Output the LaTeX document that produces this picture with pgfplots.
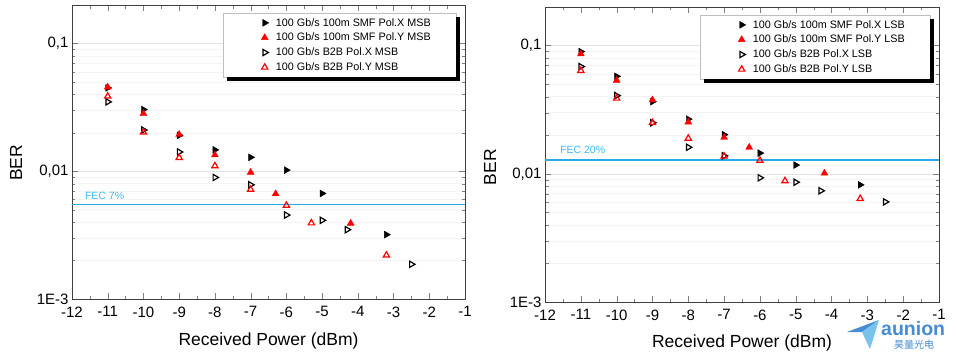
\documentclass[border=0pt]{standalone}
\usepackage{fontspec}
\setmainfont{Liberation Sans}
\newfontfamily\cjk{Noto Sans CJK SC}
\usepackage{pgfplots}
\pgfplotsset{compat=1.18}
\definecolor{fec}{RGB}{40,170,230}
\definecolor{fectext}{RGB}{60,185,240}
\definecolor{logoblue}{RGB}{70,140,210}
\definecolor{logolight}{RGB}{120,195,235}

\begin{document}
\begin{tikzpicture}
\useasboundingbox (0,0) rectangle (957pt,360pt);

% ---------------- left panel (MSB) ----------------
\begin{axis}[at={(72pt,61pt)}, anchor=south west, scale only axis, width=393pt, height=294pt,
  xmin=-12, xmax=-1, ymode=log, ymin=1e-3, ymax=0.2,
  xtick={-12,-11,-10,-9,-8,-7,-6,-5,-4,-3,-2,-1},
  xticklabels={-12,-11,-10,-9,-8,-7,-6,-5,-4,-3,-2,-1},
  minor x tick num=1,
  ytick={0.001,0.01,0.1}, yticklabels={1E-3,{0,01},{0,1}},
  ymajorgrids, yminorgrids,
  major grid style={gray!22, line width=0.6pt},
  minor grid style={gray!9, line width=0.5pt},
  axis line style={black!75, line width=1pt},
  major tick length=6pt, minor tick length=3.5pt,
  tick label style={font=\fontsize{15}{15}\selectfont},
  xticklabel style={yshift=-4pt},
  xlabel={Received Power (dBm)}, ylabel={BER},
  xlabel style={font=\fontsize{17.5}{18}\selectfont, at={(axis description cs:0.5,0)}, yshift=-42pt, anchor=center},
  ylabel style={font=\fontsize{17.5}{18}\selectfont, at={(axis description cs:-0.1425,0.4626)}, rotate=0, anchor=center},
  legend cell align=left,
  legend style={at={(axis description cs:1,1)}, xshift=-9pt, yshift=-8pt,
    anchor=north east, draw=gray!50, fill=white, name=legL, inner xsep=2pt, inner ysep=3pt,
    row sep=1.5pt, font=\fontsize{10.8}{12}\selectfont}]
\addplot[only marks, mark=triangle*, mark size=4pt, black, mark options={rotate=-90, fill=black},
  legend image code/.code={\path (-39pt,0pt) (9pt,0pt); \draw[black, mark=triangle*, mark size=4pt, mark options={rotate=-90, fill=black}] plot coordinates {(0pt,0pt)};}]
  coordinates {(-11,0.0449)(-10,0.0304)(-9,0.0191)(-8,0.0147)(-7,0.01285)(-6,0.0102)(-5,0.0067)(-3.2,0.00319)};
\addlegendentry{100 Gb/s 100m SMF Pol.X MSB\hspace*{21pt}}
\addplot[only marks, mark=triangle*, mark size=4pt, red, mark options={fill=red},
  legend image code/.code={\path (-39pt,0pt) (9pt,0pt); \draw[red, mark=triangle*, mark size=4pt, mark options={fill=red}] plot coordinates {(0pt,0pt)};}]
  coordinates {(-11,0.0455)(-10,0.0283)(-9,0.0194)(-8,0.0134)(-7,0.0098)(-6.3,0.00666)(-4.2,0.00391)};
\addlegendentry{100 Gb/s 100m SMF Pol.Y MSB\hspace*{21pt}}
\addplot[only marks, mark=triangle, mark size=3.6pt, black, mark options={rotate=-90, line width=1.2pt},
  legend image code/.code={\path (-39pt,0pt) (9pt,0pt); \draw[black, mark=triangle, mark size=3.6pt, mark options={rotate=-90, line width=1.2pt}] plot coordinates {(0pt,0pt)};}]
  coordinates {(-11,0.0349)(-10,0.0210)(-9,0.01415)(-8,0.00894)(-7,0.00783)(-6,0.00454)(-5,0.00413)(-4.3,0.00349)(-2.5,0.00187)};
\addlegendentry{100 Gb/s B2B Pol.X MSB}
\addplot[only marks, mark=triangle, mark size=3.6pt, red, mark options={line width=1.2pt},
  legend image code/.code={\path (-39pt,0pt) (9pt,0pt); \draw[red, mark=triangle, mark size=3.6pt, mark options={line width=1.2pt}] plot coordinates {(0pt,0pt)};}]
  coordinates {(-11,0.0386)(-10,0.0202)(-9,0.01277)(-8,0.0110)(-7,0.00720)(-6,0.0054)(-5.3,0.00393)(-3.2,0.0022)};
\addlegendentry{100 Gb/s B2B Pol.Y MSB}
\addplot[fec, line width=1.2pt, forget plot] coordinates {(-12,0.00547)(-1,0.00547)};
\node[anchor=south west, inner sep=0pt, text=fectext, font=\fontsize{10.5}{12}\selectfont, yshift=4.5pt] at (axis cs:-11.64,0.00547) {FEC 7\%};
\end{axis}
\fill[black] ([xshift=4pt]legL.south west) rectangle ([xshift=4pt,yshift=-4pt]legL.south east);
\fill[black] ([yshift=-4pt]legL.north east) rectangle ([xshift=4pt]legL.south east);

% ---------------- right panel (LSB) ----------------
\begin{axis}[at={(545pt,58pt)}, anchor=south west, scale only axis, width=394pt, height=295pt,
  xmin=-12, xmax=-1, ymode=log, ymin=1e-3, ymax=0.2,
  xtick={-12,-11,-10,-9,-8,-7,-6,-5,-4,-3,-2,-1},
  xticklabels={-12,-11,-10,-9,-8,-7,-6,-5,-4,-3,-2,-1},
  minor x tick num=1,
  ytick={0.001,0.01,0.1}, yticklabels={1E-3,{0,01},{0,1}},
  ymajorgrids, yminorgrids,
  major grid style={gray!22, line width=0.6pt},
  minor grid style={gray!9, line width=0.5pt},
  axis line style={black!75, line width=1pt},
  major tick length=6pt, minor tick length=3.5pt,
  tick label style={font=\fontsize{15}{15}\selectfont},
  xticklabel style={yshift=-4pt},
  xlabel={Received Power (dBm)}, ylabel={BER},
  xlabel style={font=\fontsize{17.5}{18}\selectfont, at={(axis description cs:0.5,0)}, yshift=-41pt, anchor=center},
  ylabel style={font=\fontsize{17.5}{18}\selectfont, at={(axis description cs:-0.1396,0.4576)}, rotate=0, anchor=center},
  legend cell align=left,
  legend style={at={(axis description cs:1,1)}, xshift=-9pt, yshift=-8pt,
    anchor=north east, draw=gray!50, fill=white, name=legR, inner xsep=2pt, inner ysep=3pt,
    row sep=1.5pt, font=\fontsize{10.8}{12}\selectfont}]
\addplot[only marks, mark=triangle*, mark size=4pt, black, mark options={rotate=-90, fill=black},
  legend image code/.code={\path (-39pt,0pt) (9pt,0pt); \draw[black, mark=triangle*, mark size=4pt, mark options={rotate=-90, fill=black}] plot coordinates {(0pt,0pt)};}]
  coordinates {(-11,0.0898)(-10,0.0576)(-9,0.0365)(-8,0.0267)(-7,0.0202)(-6,0.0145)(-5,0.0117)(-3.2,0.0082)};
\addlegendentry{100 Gb/s 100m SMF Pol.X LSB\hspace*{21pt}}
\addplot[only marks, mark=triangle*, mark size=4pt, red, mark options={fill=red},
  legend image code/.code={\path (-39pt,0pt) (9pt,0pt); \draw[red, mark=triangle*, mark size=4pt, mark options={fill=red}] plot coordinates {(0pt,0pt)};}]
  coordinates {(-11,0.086)(-10,0.0536)(-9,0.0377)(-8,0.0253)(-7,0.0192)(-6.3,0.0161)(-4.2,0.0101)};
\addlegendentry{100 Gb/s 100m SMF Pol.Y LSB\hspace*{21pt}}
\addplot[only marks, mark=triangle, mark size=3.6pt, black, mark options={rotate=-90, line width=1.2pt},
  legend image code/.code={\path (-39pt,0pt) (9pt,0pt); \draw[black, mark=triangle, mark size=3.6pt, mark options={rotate=-90, line width=1.2pt}] plot coordinates {(0pt,0pt)};}]
  coordinates {(-11,0.0686)(-10,0.0407)(-9,0.025)(-8,0.0161)(-7,0.0138)(-6,0.0093)(-5,0.0086)(-4.3,0.00737)(-2.5,0.00604)};
\addlegendentry{100 Gb/s B2B Pol.X LSB}
\addplot[only marks, mark=triangle, mark size=3.6pt, red, mark options={line width=1.2pt},
  legend image code/.code={\path (-39pt,0pt) (9pt,0pt); \draw[red, mark=triangle, mark size=3.6pt, mark options={line width=1.2pt}] plot coordinates {(0pt,0pt)};}]
  coordinates {(-11,0.0638)(-10,0.0388)(-9,0.025)(-8,0.0189)(-7,0.0137)(-6,0.0127)(-5.3,0.0088)(-3.2,0.0064)};
\addlegendentry{100 Gb/s B2B Pol.Y LSB}
\addplot[fec, line width=1.2pt, forget plot] coordinates {(-12,0.0128)(-1,0.0128)};
\node[anchor=south west, inner sep=0pt, text=fectext, font=\fontsize{10.5}{12}\selectfont, yshift=6pt] at (axis cs:-11.58,0.0128) {FEC 20\%};
\end{axis}
\fill[black] ([xshift=4pt]legR.south west) rectangle ([xshift=4pt,yshift=-4pt]legR.south east);
\fill[black] ([yshift=-4pt]legR.north east) rectangle ([xshift=4pt]legR.south east);

% ---------------- logo ----------------
\fill[logoblue] (847pt,28pt) -- (879pt,40pt) -- (862pt,28pt) -- cycle;
\fill[logolight] (862pt,28pt) -- (879pt,40pt) -- (870pt,11pt) -- cycle;
\node[anchor=base west, inner sep=0pt, text=logoblue, font=\bfseries\fontsize{19.5}{19.5}\selectfont] at (881pt,24.5pt) {aunion};
\node[anchor=base west, inner sep=0pt, text=logoblue, font=\cjk\fontsize{10}{10}\selectfont] at (894pt,11.5pt) {昊量光电};
\end{tikzpicture}
\end{document}
